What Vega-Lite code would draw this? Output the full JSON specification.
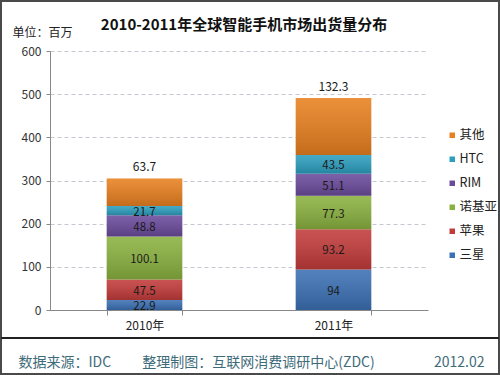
{
  "$schema": "https://vega.github.io/schema/vega-lite/v6.json",
  "width": 498,
  "height": 373,
  "autosize": {"type": "none"},
  "padding": 1,
  "background": "white",
  "config": {
    "font": "Noto Sans CJK SC",
    "view": {"stroke": "#4a4a4a", "strokeWidth": 2}
  },
  "title": {
    "text": "2010-2011年全球智能手机市场出货量分布",
    "fontSize": 15,
    "fontWeight": "bold",
    "color": "#111111",
    "baseline": "alphabetic",
    "offset": -44,
    "dx": -6,
    "anchor": "middle",
    "frame": "group"
  },
  "data": {
    "values": [
      {"year": "2010年", "series": "三星", "k": 1, "v": 22.9},
      {"year": "2010年", "series": "苹果", "k": 2, "v": 47.5},
      {"year": "2010年", "series": "诺基亚", "k": 3, "v": 100.1},
      {"year": "2010年", "series": "RIM", "k": 4, "v": 48.8},
      {"year": "2010年", "series": "HTC", "k": 5, "v": 21.7},
      {"year": "2010年", "series": "其他", "k": 6, "v": 63.7},
      {"year": "2011年", "series": "三星", "k": 1, "v": 94},
      {"year": "2011年", "series": "苹果", "k": 2, "v": 93.2},
      {"year": "2011年", "series": "诺基亚", "k": 3, "v": 77.3},
      {"year": "2011年", "series": "RIM", "k": 4, "v": 51.1},
      {"year": "2011年", "series": "HTC", "k": 5, "v": 43.5},
      {"year": "2011年", "series": "其他", "k": 6, "v": 132.3}
    ]
  },
  "transform": [
    {"stack": "v", "groupby": ["year"], "sort": [{"field": "k", "order": "ascending"}], "as": ["v0", "v1"]}
  ],
  "layer": [
    {
      "mark": {"type": "bar"},
      "encoding": {
        "x": {
          "field": "year",
          "type": "nominal",
          "scale": {"range": [49, 427], "paddingInner": 0.6, "paddingOuter": 0.3},
          "axis": {
            "title": "数据来源：IDC　　 整理制图：互联网消费调研中心(ZDC)　　　　  2012.02",
            "titleX": 17,
            "titleY": 56,
            "titleAlign": "left",
            "titleBaseline": "alphabetic",
            "titleFontSize": 14,
            "titleFontWeight": "normal",
            "titleColor": "#3e6b7a",
            "offset": -64,
            "labelAngle": 0,
            "tickBand": "extent",
            "tickSize": 5,
            "domainColor": "#888888",
            "tickColor": "#888888",
            "labelPadding": 5,
            "labelFontSize": 12,
            "labelColor": "#222222"
          }
        },
        "y": {
          "field": "v0",
          "type": "quantitative",
          "scale": {"domain": [0, 600], "range": [309, 50], "nice": false},
          "axis": {
            "values": [0, 100, 200, 300, 400, 500, 600],
            "title": "单位：百万",
            "titleAngle": 0,
            "titleX": -38,
            "titleY": 35,
            "titleAlign": "left",
            "titleBaseline": "alphabetic",
            "titleFontSize": 12,
            "titleFontWeight": "normal",
            "titleColor": "#222222",
            "offset": -49,
            "grid": true,
            "gridDash": [4, 3],
            "gridColor": "#c4c8d0",
            "domainColor": "#888888",
            "tickColor": "#888888",
            "tickSize": 4,
            "labelPadding": 5,
            "labelFontSize": 12,
            "labelColor": "#333333"
          }
        },
        "y2": {"field": "v1"},
        "color": {
          "field": "series",
          "type": "nominal",
          "scale": {
            "domain": ["其他", "HTC", "RIM", "诺基亚", "苹果", "三星"],
            "range": ["#E8801F", "#2C9EBE", "#6A4A9C", "#8AB13F", "#C23B3A", "#3B70B4"]
          },
          "legend": {
            "orient": "none",
            "legendX": 445,
            "legendY": 128,
            "title": null,
            "symbolType": "square",
            "symbolSize": 30,
            "symbolStrokeWidth": 0,
            "labelFontSize": 12.5,
            "labelOffset": 1,
            "labelColor": "#222222",
            "rowPadding": 11,
            "padding": 0
          }
        }
      }
    },
    {
      "mark": {
        "type": "bar",
        "fill": {
          "gradient": "linear",
          "x1": 0, "y1": 0, "x2": 0, "y2": 1,
          "stops": [
            {"offset": 0, "color": "rgba(255,255,255,0.12)"},
            {"offset": 1, "color": "rgba(0,0,0,0.16)"}
          ]
        }
      },
      "encoding": {
        "x": {"field": "year", "type": "nominal"},
        "y": {"field": "v0", "type": "quantitative"},
        "y2": {"field": "v1"}
      }
    },
    {
      "transform": [
        {"filter": "datum.series !== '其他'"},
        {"calculate": "(datum.v0 + datum.v1) / 2", "as": "mid"}
      ],
      "mark": {"type": "text", "fontSize": 11.5, "color": "#1a1a1a", "baseline": "middle", "dy": 2},
      "encoding": {
        "x": {"field": "year", "type": "nominal"},
        "y": {"field": "mid", "type": "quantitative"},
        "text": {"field": "v", "type": "quantitative"}
      }
    },
    {
      "transform": [{"filter": "datum.series === '其他'"}],
      "mark": {"type": "text", "fontSize": 12, "color": "#1a1a1a", "baseline": "middle", "dy": -11},
      "encoding": {
        "x": {"field": "year", "type": "nominal"},
        "y": {"field": "v1", "type": "quantitative"},
        "text": {"field": "v", "type": "quantitative"}
      }
    },
    {
      "mark": {"type": "rule", "color": "#222222", "strokeWidth": 1.5},
      "encoding": {"y": {"datum": -65}}
    }
  ]
}
